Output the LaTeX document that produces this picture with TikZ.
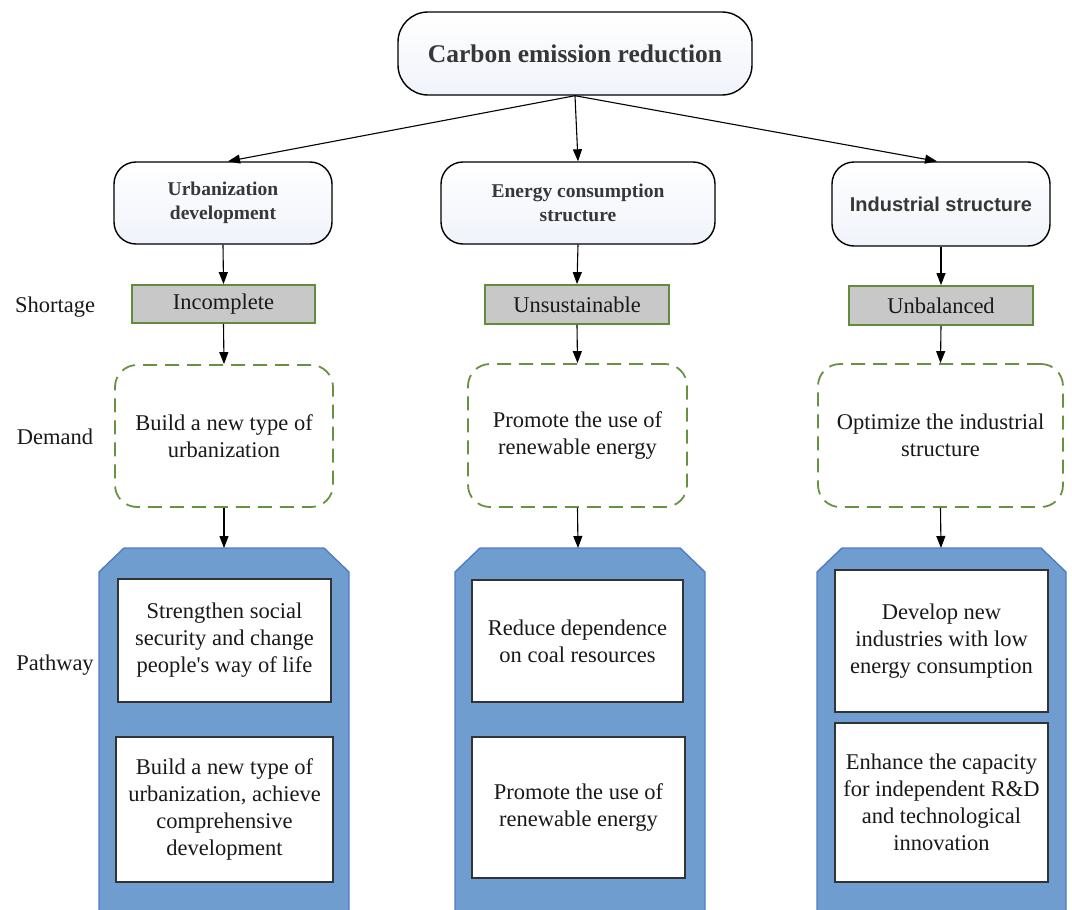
\documentclass[tikz,border=0pt]{standalone}
\usepackage{fontspec}
\setmainfont{Liberation Serif}
\newfontfamily\headsans{Liberation Sans}
\usetikzlibrary{arrows.meta}
\definecolor{boxbot}{RGB}{240,243,250}
\definecolor{titletext}{RGB}{55,55,55}
\definecolor{shortfill}{RGB}{200,200,200}
\definecolor{shortline}{RGB}{96,140,60}
\definecolor{dashline}{RGB}{104,146,64}
\definecolor{bluefill}{RGB}{112,157,208}
\definecolor{blueline}{RGB}{80,124,196}
\definecolor{bodytext}{RGB}{25,25,25}
\tikzset{
  titlebox/.style={draw=black, line width=1.4pt, rounded corners=22pt,
    top color=white, bottom color=boxbot, align=center, inner sep=0pt,
    font=\fontsize{19.5}{24}\selectfont\bfseries, text=titletext},
  shortbox/.style={draw=shortline, line width=1.8pt, fill=shortfill,
    align=center, inner sep=0pt, font=\fontsize{22.5}{27}\selectfont, text=bodytext},
  demandbox/.style={draw=dashline, line width=1.8pt, dash pattern=on 14pt off 8pt,
    rounded corners=22pt, fill=white, align=center, inner sep=0pt,
    font=\fontsize{22.5}{27}\selectfont, text=bodytext},
  pathbox/.style={draw=black!80, line width=1.3pt, fill=white, align=center,
    inner sep=0pt, font=\fontsize{22.5}{27}\selectfont, text=bodytext},
  rowlabel/.style={align=center, inner sep=0pt, font=\fontsize{22.5}{27}\selectfont, text=bodytext},
  bluecase/.style={fill=bluefill, draw=blueline, line width=1.4pt},
  arr/.style={draw=black, line width=1.1pt, -{Triangle[length=12pt,width=9pt]}}
}
\begin{document}
\begin{tikzpicture}[x=1pt,y=-1pt]
\path[use as bounding box] (0,0) rectangle (1072,910);

% blue pathway containers
\begin{scope}
\clip (0,0) rectangle (1072,910);
\draw[bluecase] (99,930) -- (99,572) -- (124,548) -- (324,548) -- (349,572) -- (349,930);
\draw[bluecase] (455,930) -- (455,572) -- (480,548) -- (680,548) -- (705,572) -- (705,930);
\draw[bluecase] (817,930) -- (817,572) -- (842,548) -- (1041,548) -- (1066,572) -- (1066,930);
\end{scope}
\coordinate (pL) at (224,548);
\coordinate (pC) at (578,548);
\coordinate (pR) at (941,548);

% top
\node[titlebox, minimum width=354pt, minimum height=83pt, rounded corners=30pt,
  font=\fontsize{25.5}{30}\selectfont\bfseries] (top) at (575,53.5) {Carbon emission reduction};

% second level
\node[titlebox, minimum width=218pt, minimum height=82pt] (urb) at (223,203) {Urbanization\\development};
\node[titlebox, minimum width=274pt, minimum height=82pt] (ene) at (578,203) {Energy consumption\\structure};
\node[titlebox, minimum width=218pt, minimum height=84pt, font=\headsans\fontsize{20}{24}\selectfont\bfseries] (ind) at (941,204) {Industrial structure};

% shortage
\node[shortbox, minimum width=183pt, minimum height=38pt] (sL) at (223.5,304) {Incomplete};
\node[shortbox, minimum width=184pt, minimum height=39pt] (sC) at (577,304.5) {Unsustainable};
\node[shortbox, minimum width=184pt, minimum height=39pt] (sR) at (941,305.5) {Unbalanced};

% demand
\node[demandbox, minimum width=218pt, minimum height=142pt] (dL) at (224,436) {Build a new type of\\urbanization};
\node[demandbox, minimum width=219pt, minimum height=143pt] (dC) at (577.5,435.5) {Promote the use of\\renewable energy};
\node[demandbox, minimum width=245pt, minimum height=143pt] (dR) at (940.5,435.5) {Optimize the industrial\\structure};

% pathway inner boxes
\node[pathbox, minimum width=213pt, minimum height=123pt] (L1) at (224.5,640.5) {Strengthen social\\security and change\\people\textquotesingle s way of life};
\node[pathbox, minimum width=217pt, minimum height=145pt] (L2) at (224.5,809.5) {Build a new type of\\urbanization, achieve\\comprehensive\\development};
\node[pathbox, minimum width=211pt, minimum height=122pt] (C1) at (577.5,641) {Reduce dependence\\on coal resources};
\node[pathbox, minimum width=213pt, minimum height=141pt] (C2) at (578.5,807.5) {Promote the use of\\renewable energy};
\node[pathbox, minimum width=213pt, minimum height=142pt] (R1) at (941.5,641) {Develop new\\industries with low\\energy consumption};
\node[pathbox, minimum width=213pt, minimum height=159pt] (R2) at (941.5,802.5) {Enhance the capacity\\for independent R\&D\\and technological\\innovation};

% row labels
\node[rowlabel] (lab1) at (55,307) {Shortage};
\node[rowlabel] (lab2) at (55,437) {Demand};
\node[rowlabel] (lab3) at (55,665) {Pathway};

% connectors
\draw[arr] (top.south) -- ([xshift=5pt]urb.north);
\draw[arr] (top.south) -- (ene.north);
\draw[arr] (top.south) -- ([xshift=-4pt]ind.north);
\draw[arr] (urb.south) -- (sL.north);
\draw[arr] (ene.south) -- (sC.north);
\draw[arr] (ind.south) -- (sR.north);
\draw[arr] (sL.south) -- (dL.north);
\draw[arr] (sC.south) -- (dC.north);
\draw[arr] (sR.south) -- (dR.north);
\draw[arr] (dL.south) -- (pL);
\draw[arr] (dC.south) -- (pC);
\draw[arr] (dR.south) -- (pR);
\end{tikzpicture}
\end{document}
